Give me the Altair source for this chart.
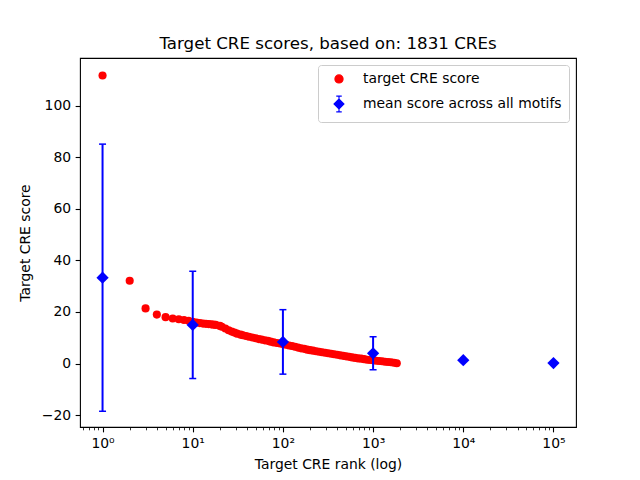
import json
import altair as alt
import pandas as pd

# ---- data ----
ranks = [1, 2, 3, 4, 5, 6, 7, 8, 9, 10, 11, 12, 13, 14, 15, 16, 17, 18, 20, 21,
         23, 25, 27, 29, 31, 34, 36, 39, 42, 46, 50, 54, 58, 63, 68, 73, 79, 86,
         93, 100, 108, 117, 126, 136, 147, 159, 172, 186, 200, 216, 234, 252, 272,
         294, 318, 343, 370, 400, 432, 466, 503, 543, 586, 633, 683, 737, 796, 859,
         927, 1000, 1080, 1166, 1258, 1358, 1466, 1583, 1709, 1831]
scores = [111.7, 32.1, 21.4, 19.0, 18.0, 17.5, 17.2, 16.9, 16.6, 16.2, 15.9, 15.7,
          15.5, 15.4, 15.3, 15.2, 15.1, 15.0, 14.6, 14.3, 13.6, 12.9, 12.4, 12.0,
          11.6, 11.2, 11.0, 10.7, 10.4, 10.1, 9.8, 9.5, 9.3, 9.0, 8.8, 8.5, 8.2,
          8.0, 7.8, 7.6, 7.3, 7.0, 6.8, 6.5, 6.2, 5.9, 5.7, 5.4, 5.2, 5.0, 4.8,
          4.6, 4.4, 4.2, 4.0, 3.8, 3.6, 3.4, 3.2, 3.0, 2.8, 2.6, 2.4, 2.2, 2.0,
          1.9, 1.7, 1.5, 1.4, 1.3, 1.1, 1.0, 0.9, 0.7, 0.6, 0.5, 0.3, 0.1]

mean_ranks = [1, 10, 100, 1000, 10000, 100000]
mean_scores = [33.3, 15.0, 8.4, 4.0, 1.3, 0.2]
mean_errors = [51.8, 20.8, 12.5, 6.4, 0.0, 0.0]

series_names = ["target CRE score", "mean score across all motifs"]
x_tick_values = [1, 10, 100, 1000, 10000, 100000]
x_tick_labels = ["10⁰", "10¹", "10²", "10³", "10⁴", "10⁵"]
x_minor_values = [0.6, 0.7, 0.8, 0.9,
                  2, 3, 4, 5, 6, 7, 8, 9,
                  20, 30, 40, 50, 60, 70, 80, 90,
                  200, 300, 400, 500, 600, 700, 800, 900,
                  2000, 3000, 4000, 5000, 6000, 7000, 8000, 9000,
                  20000, 30000, 40000, 50000, 60000, 70000, 80000, 90000]
y_tick_values = [-20, 0, 20, 40, 60, 80, 100]

title_text = "Target CRE scores, based on: 1831 CREs"
x_title = "Target CRE rank (log)"
y_title = "Target CRE score"

# ---- tables ----
red_df = pd.DataFrame({"rank": ranks, "score": scores, "series": series_names[0]})
blue_df = pd.DataFrame({"rank": mean_ranks, "score": mean_scores, "err": mean_errors,
                        "series": series_names[1]})
blue_df["lo"] = blue_df["score"] - blue_df["err"]
blue_df["hi"] = blue_df["score"] + blue_df["err"]
err_df = blue_df[blue_df["err"] > 0]

FONT = "DejaVu Sans"
RED = "#ff0000"
BLUE = "#0000ff"

# legend glyph for the mean series: diamond with a small error bar through it
ERRBAR_DIAMOND = ("M-0.8,0L0,-0.8L0.8,0L0,0.8Z "
                  "M0,-1.3L0,1.3 M-0.45,-1.3L0.45,-1.3 M-0.45,1.3L0.45,1.3")

xscale = alt.Scale(type="log", domain=[0.5623, 177828], nice=False)
yscale = alt.Scale(domain=[-24.6, 118.5], nice=False, zero=False)

major_test = "indexof(" + json.dumps(x_tick_values) + ", datum.value) >= 0"
label_expr = ("indexof(" + json.dumps(x_tick_values) + ", datum.value) >= 0 ? "
              + json.dumps(x_tick_labels, ensure_ascii=False)
              + "[indexof(" + json.dumps(x_tick_values) + ", datum.value)] : ''")

x_axis = alt.Axis(values=x_tick_values + x_minor_values, labelExpr=label_expr,
                  title=x_title, grid=False, domain=False, labelOverlap=False,
                  tickSize={"condition": {"test": major_test, "value": 4.86}, "value": 2.8},
                  tickWidth={"condition": {"test": major_test, "value": 1.1}, "value": 0.8},
                  labelPadding=4.5, titlePadding=7)
y_axis = alt.Axis(values=y_tick_values, title=y_title, grid=False, domain=False,
                  tickSize=4.86, tickWidth=1.1, labelPadding=4.5, titlePadding=9)

legend = alt.Legend(title=None, orient="top-right", offset=7, padding=7,
                    strokeColor="#cccccc", fillColor="white", cornerRadius=3,
                    labelFont=FONT, labelFontSize=13.9, labelColor="black",
                    labelLimit=400, rowPadding=7, labelOffset=17, symbolOffset=7,
                    symbolStrokeWidth=1.2)

color_enc = alt.Color("series:N", scale=alt.Scale(domain=series_names, range=[RED, BLUE]),
                      legend=legend)
stroke_enc = alt.Stroke("series:N", scale=alt.Scale(domain=series_names, range=[RED, BLUE]),
                        legend=legend)
shape_enc = alt.Shape("series:N", scale=alt.Scale(domain=series_names,
                                                  range=["circle", ERRBAR_DIAMOND]),
                      legend=legend)
size_enc = alt.Size("series:N", scale=alt.Scale(domain=series_names, range=[66, 150]),
                    legend=legend)

red = alt.Chart(red_df).mark_point(filled=True, opacity=1, strokeWidth=0, size=75).encode(
    x=alt.X("rank:Q", scale=xscale, axis=x_axis),
    y=alt.Y("score:Q", scale=yscale, axis=y_axis),
    color=color_enc, stroke=stroke_enc, shape=shape_enc, size=size_enc,
)

bars = alt.Chart(err_df).mark_rule(color=BLUE, strokeWidth=2).encode(
    x=alt.X("rank:Q", scale=xscale),
    y=alt.Y("lo:Q", scale=yscale),
    y2="hi:Q",
)
cap_lo = alt.Chart(err_df).mark_tick(color=BLUE, orient="horizontal", size=7,
                                     thickness=1.5, opacity=1).encode(
    x=alt.X("rank:Q", scale=xscale), y=alt.Y("lo:Q", scale=yscale))
cap_hi = alt.Chart(err_df).mark_tick(color=BLUE, orient="horizontal", size=7,
                                     thickness=1.5, opacity=1).encode(
    x=alt.X("rank:Q", scale=xscale), y=alt.Y("hi:Q", scale=yscale))

blue = alt.Chart(blue_df).mark_point(filled=True, opacity=1, shape="diamond",
                                     size=150).encode(
    x=alt.X("rank:Q", scale=xscale),
    y=alt.Y("score:Q", scale=yscale),
    color=color_enc,
)

chart = alt.layer(red, bars, cap_lo, cap_hi, blue).properties(
    width=496, height=369,
    background="white",
    title=alt.TitleParams(title_text, font=FONT, fontSize=16.67, fontWeight="normal",
                          color="black", anchor="middle", offset=5),
    autosize=alt.AutoSizeParams(type="none"),
    padding={"left": 72, "top": 50, "right": 56, "bottom": 45},
).configure_view(stroke="black", strokeWidth=1.1).configure_axis(
    labelFont=FONT, titleFont=FONT, labelFontSize=13.9, titleFontSize=13.9,
    titleFontWeight="normal", labelColor="black", titleColor="black",
    tickColor="black",
)

chart.save("out.html", embed_options={"renderer": "svg", "actions": False})
